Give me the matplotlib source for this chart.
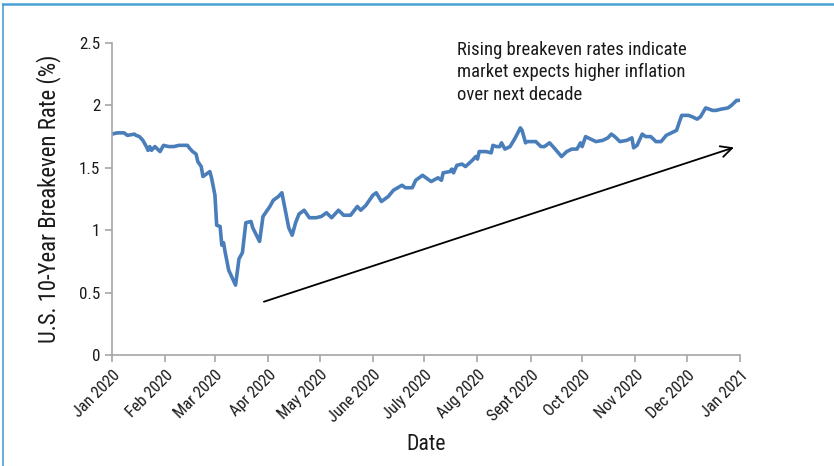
import matplotlib
matplotlib.use("Agg")
import matplotlib.pyplot as plt
from matplotlib import font_manager
from matplotlib.lines import Line2D
import pandas as pd

# daily-ish 10y breakeven readings, 2020
dates = [
    "2020-01-01", "2020-01-04", "2020-01-08", "2020-01-10", "2020-01-14", "2020-01-15",
    "2020-01-17", "2020-01-19", "2020-01-21", "2020-01-22", "2020-01-23", "2020-01-24",
    "2020-01-26", "2020-01-29", "2020-01-31", "2020-02-03", "2020-02-06", "2020-02-09",
    "2020-02-14", "2020-02-15", "2020-02-17", "2020-02-19", "2020-02-20", "2020-02-22",
    "2020-02-23", "2020-02-25", "2020-02-27", "2020-02-28", "2020-03-01", "2020-03-02",
    "2020-03-04", "2020-03-05", "2020-03-06", "2020-03-07", "2020-03-09", "2020-03-11",
    "2020-03-13", "2020-03-15", "2020-03-17", "2020-03-19", "2020-03-22", "2020-03-23",
    "2020-03-27", "2020-03-29", "2020-04-02", "2020-04-04", "2020-04-07", "2020-04-09",
    "2020-04-11", "2020-04-13", "2020-04-15", "2020-04-17", "2020-04-19", "2020-04-22",
    "2020-04-23", "2020-04-25", "2020-04-29", "2020-05-02", "2020-05-05", "2020-05-08",
    "2020-05-12", "2020-05-15", "2020-05-19", "2020-05-23", "2020-05-25", "2020-05-28",
    "2020-06-01", "2020-06-03", "2020-06-06", "2020-06-10", "2020-06-13", "2020-06-18",
    "2020-06-20", "2020-06-24", "2020-06-26", "2020-06-30", "2020-07-05", "2020-07-09",
    "2020-07-11", "2020-07-12", "2020-07-16", "2020-07-17", "2020-07-18", "2020-07-20",
    "2020-07-23", "2020-07-25", "2020-07-29", "2020-07-31", "2020-08-01", "2020-08-02",
    "2020-08-06", "2020-08-09", "2020-08-10", "2020-08-12", "2020-08-14", "2020-08-15",
    "2020-08-17", "2020-08-20", "2020-08-23", "2020-08-26", "2020-08-27", "2020-08-29",
    "2020-08-30", "2020-09-04", "2020-09-07", "2020-09-09", "2020-09-12", "2020-09-14",
    "2020-09-19", "2020-09-22", "2020-09-25", "2020-09-28", "2020-09-30", "2020-10-01",
    "2020-10-03", "2020-10-09", "2020-10-13", "2020-10-16", "2020-10-18", "2020-10-20",
    "2020-10-23", "2020-10-27", "2020-10-30", "2020-10-31", "2020-11-02", "2020-11-05",
    "2020-11-07", "2020-11-10", "2020-11-13", "2020-11-16", "2020-11-19", "2020-11-22",
    "2020-11-25", "2020-11-28", "2020-12-01", "2020-12-02", "2020-12-04", "2020-12-07",
    "2020-12-09", "2020-12-12", "2020-12-16", "2020-12-18", "2020-12-21", "2020-12-25",
    "2020-12-27", "2020-12-30", "2020-12-31",
]
rates = [
    1.77, 1.78, 1.78, 1.76, 1.77, 1.76,
    1.75, 1.72, 1.67, 1.64, 1.67, 1.64,
    1.67, 1.63, 1.68, 1.67, 1.67, 1.68,
    1.68, 1.66, 1.63, 1.61, 1.55, 1.51,
    1.43, 1.45, 1.47, 1.42, 1.28, 1.04,
    1.03, 0.88, 0.90, 0.82, 0.68, 0.62,
    0.56, 0.77, 0.82, 1.06, 1.07, 1.02,
    0.91, 1.11, 1.19, 1.24, 1.27, 1.30,
    1.16, 1.02, 0.96, 1.06, 1.13, 1.16,
    1.14, 1.10, 1.10, 1.11, 1.14, 1.10,
    1.16, 1.12, 1.12, 1.19, 1.16, 1.20,
    1.28, 1.30, 1.23, 1.27, 1.32, 1.36,
    1.34, 1.34, 1.40, 1.44, 1.39, 1.42,
    1.40, 1.46, 1.47, 1.49, 1.46, 1.52,
    1.53, 1.51, 1.56, 1.59, 1.57, 1.63,
    1.63, 1.62, 1.68, 1.67, 1.67, 1.70,
    1.65, 1.67, 1.74, 1.82, 1.80, 1.70,
    1.71, 1.71, 1.67, 1.67, 1.70, 1.67,
    1.59, 1.63, 1.65, 1.65, 1.70, 1.67,
    1.75, 1.71, 1.72, 1.74, 1.77, 1.75,
    1.71, 1.72, 1.74, 1.66, 1.68, 1.77,
    1.75, 1.75, 1.71, 1.71, 1.76, 1.78,
    1.80, 1.92, 1.92, 1.92, 1.91, 1.89,
    1.91, 1.98, 1.96, 1.96, 1.97, 1.98,
    2.00, 2.04, 2.04,
]

month_labels = ["Jan 2020", "Feb 2020", "Mar 2020", "Apr 2020", "May 2020", "June 2020",
                "July 2020", "Aug 2020", "Sept 2020", "Oct 2020", "Nov 2020", "Dec 2020",
                "Jan 2021"]
y_ticks = [0, 0.5, 1, 1.5, 2, 2.5]
y_labels = ["0", "0.5", "1", "1.5", "2", "2.5"]

trend_start = ("2020-03-28", 0.42)
trend_end = ("2020-12-30", 1.67)
note = "Rising breakeven rates indicate\nmarket expects higher inflation\nover next decade"

# prefer a narrow sans if one is around
installed = {f.name for f in font_manager.fontManager.ttflist}
wanted = ["Roboto Condensed", "Liberation Sans Narrow", "Open Sans Condensed",
          "Noto Sans Condensed", "DejaVu Sans Condensed", "Open Sans", "DejaVu Sans"]
family = [f for f in wanted if f in installed]
narrow = family[0] not in ("Open Sans", "DejaVu Sans")
plt.rcParams["font.family"] = family

scale = 1.12 if narrow else 1.0
tick_fs = 10.5 * scale
label_fs = 14 * scale
note_fs = 12 * scale

x = pd.to_datetime(dates)
month_ticks = pd.date_range("2020-01-01", "2021-01-01", freq="MS")

fig = plt.figure(figsize=(8.34, 4.66), dpi=100)
ax = fig.add_axes([0.1343, 0.2382, 0.7530, 0.6695])

ax.plot(x, rates, color="#4a7ebb", lw=2.6, solid_joinstyle="round")

ax.set_xlim(pd.Timestamp("2020-01-01"), pd.Timestamp("2021-01-01"))
ax.set_ylim(0, 2.5)
ax.set_yticks(y_ticks)
ax.set_yticklabels(y_labels, fontsize=tick_fs + 0.5)
ax.set_xticks(month_ticks)
ax.set_xticklabels(month_labels, rotation=45, ha="right", rotation_mode="anchor", fontsize=tick_fs)

for side in ("top", "right"):
    ax.spines[side].set_visible(False)
for side in ("left", "bottom"):
    ax.spines[side].set_color("#a6a6a6")
    ax.spines[side].set_linewidth(1.2)
ax.tick_params(axis="both", colors="#a6a6a6", length=5, width=1.2, labelcolor="#1a1a1a")
ax.tick_params(axis="x", pad=4)

ax.set_xlabel("Date", fontsize=label_fs, labelpad=6, color="#1a1a1a")
ax.set_ylabel("U.S. 10-Year Breakeven Rate (%)", fontsize=label_fs + 0.7, labelpad=13,
              color="#1a1a1a")

ax.annotate("", xy=(pd.Timestamp(trend_end[0]), trend_end[1]),
            xytext=(pd.Timestamp(trend_start[0]), trend_start[1]),
            arrowprops=dict(arrowstyle="->", color="black", lw=1.3, mutation_scale=20))

ax.text(pd.Timestamp("2020-07-20"), 2.515, note, fontsize=note_fs, va="top", ha="left",
        linespacing=1.3, color="#1a1a1a")

# thin blue frame along the top and left edges
fig.add_artist(Line2D([0.004, 1.0], [0.991, 0.991], transform=fig.transFigure,
                      color="#4a9fd5", lw=1.8))
fig.add_artist(Line2D([0.004, 0.004], [0.0, 0.991], transform=fig.transFigure,
                      color="#4a9fd5", lw=1.2))

fig.savefig("out.png", dpi=100)
